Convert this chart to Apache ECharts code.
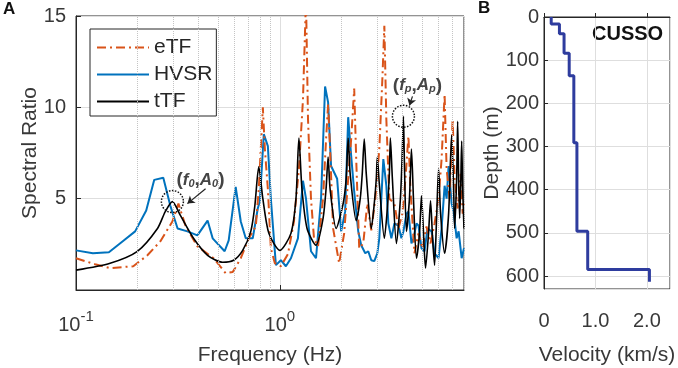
<!DOCTYPE html>
<html>
<head>
<meta charset="utf-8">
<script src="https://cdn.jsdelivr.net/npm/echarts@6.0.0/dist/echarts.min.js"></script>
<style>
html, body { margin: 0; padding: 0; background: #fff; }
#chart { width: 678px; height: 368px; }
</style>
</head>
<body>
<div id="chart"></div>
<script>
// ---- panel A : spectral ratio curves (frequency in Hz) ----
const freqETF = [0.100, 0.124, 0.147, 0.191, 0.224, 0.259, 0.297, 0.318, 0.344, 0.394, 0.473, 0.542, 0.587, 0.643, 0.704, 0.762, 0.788, 0.815, 0.825, 0.844, 0.873, 0.903, 0.945, 1.011, 1.095, 1.172, 1.240, 1.298, 1.343, 1.374, 1.421, 1.470, 1.539, 1.628, 1.685, 1.724, 1.763, 1.824, 1.953, 2.067, 2.163, 2.237, 2.315, 2.368, 2.450, 2.564, 2.684, 2.808, 2.938, 3.074, 3.181, 3.254, 3.328, 3.443, 3.645, 3.814, 3.990, 4.129, 4.271, 4.369, 4.572, 4.784, 5.006, 5.239, 5.483, 5.737, 6.003, 6.211, 6.426, 6.573, 6.801, 7.036, 7.196, 7.446, 7.704, 7.882, 8.0];
const ratioETF = [1.74, 1.41, 1.20, 1.30, 1.90, 2.66, 3.75, 4.73, 3.53, 2.39, 1.74, 0.92, 0.98, 1.74, 2.83, 3.48, 5.54, 8.80, 10.0, 7.72, 5.54, 2.28, 1.47, 1.30, 1.96, 3.75, 6.63, 10.43, 15.9, 9.35, 5.0, 2.83, 2.39, 5.0, 8.26, 10.16, 7.72, 3.37, 1.47, 3.10, 6.09, 8.26, 11.03, 7.17, 2.28, 2.55, 4.73, 3.26, 5.0, 7.72, 11.52, 14.46, 9.35, 5.0, 4.73, 3.37, 4.18, 6.09, 8.42, 5.54, 2.01, 3.10, 2.28, 3.48, 2.55, 3.64, 5.0, 7.17, 10.71, 6.63, 5.0, 9.35, 6.09, 4.46, 6.36, 4.18, 4.84];

const freqHVSR = [0.100, 0.121, 0.145, 0.169, 0.195, 0.221, 0.242, 0.268, 0.290, 0.315, 0.352, 0.394, 0.442, 0.468, 0.536, 0.561, 0.607, 0.643, 0.680, 0.736, 0.779, 0.797, 0.834, 0.873, 0.903, 0.956, 1.011, 1.070, 1.133, 1.226, 1.298, 1.343, 1.421, 1.504, 1.592, 1.666, 1.724, 1.783, 1.909, 1.998, 2.090, 2.163, 2.237, 2.315, 2.423, 2.506, 2.623, 2.713, 2.808, 2.904, 3.005, 3.074, 3.217, 3.328, 3.404, 3.523, 3.645, 3.814, 3.945, 4.036, 4.176, 4.271, 4.419, 4.520, 4.677, 4.784, 4.950, 5.121, 5.299, 5.545, 5.737, 6.002, 6.211, 6.427, 6.573, 6.724, 6.956, 7.115, 7.362, 7.530, 7.792, 8.0];
const ratioHVSR = [2.17, 2.01, 2.07, 2.66, 3.21, 4.35, 6.03, 6.14, 4.62, 3.37, 3.21, 2.99, 3.80, 2.83, 2.12, 2.72, 5.65, 3.75, 2.83, 2.83, 4.46, 4.84, 8.53, 7.88, 5.0, 1.36, 1.63, 1.30, 1.74, 2.83, 5.98, 5.0, 2.12, 1.74, 5.0, 11.14, 10.27, 6.79, 6.09, 3.21, 4.29, 9.46, 7.34, 5.38, 3.21, 2.45, 2.01, 2.12, 1.63, 1.58, 2.01, 2.83, 7.17, 5.71, 3.64, 2.83, 3.64, 3.53, 2.83, 3.21, 4.18, 4.29, 2.55, 2.83, 3.64, 3.53, 2.28, 2.12, 3.37, 3.21, 2.01, 1.74, 3.37, 5.71, 5.0, 6.79, 4.73, 4.29, 2.83, 3.21, 1.74, 2.28];

const freqTTF = [0.100, 0.147, 0.200, 0.251, 0.274, 0.297, 0.325, 0.377, 0.442, 0.524, 0.593, 0.657, 0.720, 0.753, 0.788, 0.825, 0.883, 1.0, 1.133, 1.199, 1.240, 1.283, 1.359, 1.504, 1.628, 1.685, 1.724, 1.763, 1.888, 2.043, 2.114, 2.163, 2.212, 2.368, 2.478, 2.535, 2.593, 2.653, 2.808, 2.904, 2.971, 3.005, 3.074, 3.254, 3.366, 3.443, 3.483, 3.563, 3.728, 3.901, 3.990, 4.036, 4.082, 4.176, 4.320, 4.419, 4.521, 4.677, 4.839, 4.950, 5.064, 5.181, 5.360, 5.483, 5.609, 5.737, 5.869, 6.003, 6.141, 6.426, 6.724, 6.956, 7.115, 7.196, 7.362, 7.446, 7.531, 7.617, 7.704, 7.792, 7.882, 8.0];
const ratioTTF = [1.09, 1.47, 2.12, 3.37, 4.29, 4.84, 4.08, 2.83, 1.90, 1.52, 1.63, 2.17, 3.21, 4.57, 6.74, 5.0, 3.10, 2.17, 3.10, 5.0, 8.32, 5.54, 3.37, 2.45, 3.91, 5.54, 7.28, 5.54, 3.37, 4.73, 6.09, 8.32, 6.36, 3.80, 5.0, 6.36, 8.26, 6.36, 3.37, 4.73, 6.09, 7.28, 5.82, 2.83, 4.46, 6.36, 8.32, 6.09, 2.55, 5.0, 7.72, 9.51, 6.90, 3.21, 5.0, 7.72, 5.0, 1.74, 3.10, 5.16, 3.10, 1.20, 3.10, 4.89, 2.83, 1.36, 3.91, 6.63, 4.18, 2.01, 4.18, 8.48, 5.54, 3.37, 6.09, 9.24, 6.09, 3.91, 5.54, 8.15, 5.54, 3.37];

// picked points (f0, A0) and (fp, Ap)
const peakF0 = [0.297, 4.84];
const peakFp = [4.036, 9.51];

// dotted minor grid frequencies
const minorFreqs = [0.2, 0.3, 0.4, 0.5, 0.6, 0.7, 0.8, 0.9, 2, 3, 4, 5, 6, 7, 8];

// ---- panel B : shear-wave velocity profile ----
const layerTop = [0, 16, 39, 84, 136, 291, 496, 585];   // m
const layerVel = [0.14, 0.30, 0.39, 0.49, 0.58, 0.64, 0.85, 2.05]; // km/s
const profileBottom = 613;

const FONT = 'Liberation Sans, Arial, sans-serif';
const TXT = '#383838';
const AX = '#262626';

const pair = (xs, ys) => xs.map((x, i) => [x, ys[i]]);

// build the step profile from the layers
const profile = [];
layerTop.forEach((top, i) => {
  const bot = i < layerTop.length - 1 ? layerTop[i + 1] : profileBottom;
  profile.push([layerVel[i], top], [layerVel[i], bot]);
});

const annoRich = {
  p: { fontSize: 19, fontWeight: 'bold', color: '#444', fontFamily: FONT },
  i: { fontSize: 17, fontWeight: 'bold', fontStyle: 'italic', color: '#444', fontFamily: FONT },
  s: { fontSize: 11, fontWeight: 'bold', fontStyle: 'italic', color: '#444', fontFamily: FONT, verticalAlign: 'bottom', lineHeight: 14 }
};

const chart = echarts.init(document.getElementById('chart'));

const option = {
  animation: false,
  backgroundColor: '#fff',
  textStyle: { fontFamily: FONT },
  graphic: [
    { type: 'text', left: 3, top: 1, style: { text: 'A', font: 'bold 17px ' + FONT, fill: '#111' } },
    { type: 'text', left: 478, top: 0, style: { text: 'B', font: 'bold 17px ' + FONT, fill: '#111' } },
    { type: 'text', left: 592, top: 24, style: { text: 'CUSSO', font: 'bold 20px ' + FONT, fill: '#111' } }
  ],
  legend: {
    data: ['eTF', 'HVSR', 'tTF'],
    orient: 'vertical',
    left: 90,
    top: 29,
    itemWidth: 52,
    itemHeight: 14,
    itemGap: 6,
    padding: [8, 4, 4, 6],
    borderColor: AX,
    borderWidth: 1,
    backgroundColor: '#fff',
    itemStyle: { opacity: 0 },
    textStyle: { fontSize: 21, color: '#262626', fontFamily: FONT }
  },
  grid: [
    { left: 76, top: 16, width: 388, height: 274, show: true, borderColor: AX, borderWidth: 1, containLabel: false, outerBoundsMode: 'none' },
    { left: 544, top: 17, width: 126, height: 272, show: true, borderColor: AX, borderWidth: 1, containLabel: false, outerBoundsMode: 'none' }
  ],
  xAxis: [
    {
      gridIndex: 0,
      type: 'log',
      logBase: 10,
      min: 0.1,
      max: 8,
      axisLine: { lineStyle: { color: AX } },
      axisTick: { inside: true, length: 5, lineStyle: { color: AX } },
      splitLine: { show: true, lineStyle: { color: '#dedede' } },
      axisLabel: {
        margin: 19,
        showMaxLabel: false,
        formatter: function (v) {
          const lg = Math.log10(v);
          const e = Math.round(lg);
          if (Math.abs(lg - e) > 1e-6) return '';
          return '{b|10}{s|' + e + '}';
        },
        rich: {
          b: { fontSize: 20, color: TXT, fontFamily: FONT, lineHeight: 26, verticalAlign: 'bottom' },
          s: { fontSize: 15, color: TXT, fontFamily: FONT, lineHeight: 14, verticalAlign: 'top' }
        }
      },
      name: 'Frequency (Hz)',
      nameLocation: 'middle',
      nameMoveOverlap: false,
      nameGap: 55,
      nameTextStyle: { fontSize: 21, color: TXT, fontFamily: FONT }
    },
    {
      gridIndex: 1,
      type: 'value',
      min: 0,
      max: 2.45,
      interval: 1,
      axisLine: { lineStyle: { color: AX } },
      axisTick: { inside: true, length: 4, lineStyle: { color: AX } },
      splitLine: { show: true, lineStyle: { color: '#dedede' } },
      axisLabel: {
        margin: 22,
        showMaxLabel: false,
        fontSize: 20,
        color: TXT,
        formatter: v => (v === 0 ? '0' : v.toFixed(1))
      },
      name: 'Velocity (km/s)',
      nameLocation: 'middle',
      nameMoveOverlap: false,
      nameGap: 56,
      nameTextStyle: { fontSize: 21, color: TXT, fontFamily: FONT }
    }
  ],
  yAxis: [
    {
      gridIndex: 0,
      type: 'value',
      min: 0,
      max: 15,
      interval: 5,
      axisLine: { show: true, lineStyle: { color: AX } },
      axisTick: { show: true, inside: true, length: 5, lineStyle: { color: AX } },
      splitLine: { show: true, lineStyle: { color: '#dedede' } },
      axisLabel: {
        margin: 10,
        fontSize: 20,
        color: TXT,
        formatter: v => (v === 0 ? '' : String(v))
      },
      name: 'Spectral Ratio',
      nameLocation: 'middle',
      nameMoveOverlap: false,
      nameGap: 35,
      nameTextStyle: { fontSize: 21, color: TXT, fontFamily: FONT }
    },
    {
      gridIndex: 1,
      type: 'value',
      inverse: true,
      min: 0,
      max: 630,
      interval: 100,
      axisLine: { show: true, lineStyle: { color: AX } },
      axisTick: { show: true, inside: true, length: 4, lineStyle: { color: AX } },
      splitLine: { show: true, lineStyle: { color: '#dedede' } },
      axisLabel: { margin: 5, fontSize: 20, color: TXT, showMaxLabel: false },
      name: 'Depth (m)',
      nameLocation: 'middle',
      nameMoveOverlap: false,
      nameGap: 41,
      nameTextStyle: { fontSize: 21, color: TXT, fontFamily: FONT }
    }
  ],
  series: [
    {
      name: 'HVSR',
      type: 'line',
      xAxisIndex: 0,
      yAxisIndex: 0,
      data: pair(freqHVSR, ratioHVSR),
      symbol: 'none',
      color: '#0072bd',
      lineStyle: { color: '#0072bd', width: 2 },
      markLine: {
        silent: true,
        symbol: 'none',
        label: { show: false },
        lineStyle: { color: '#c4c4c4', type: 'dotted', width: 1 },
        data: minorFreqs.map(f => ({ xAxis: f }))
      }
    },
    {
      name: 'eTF',
      type: 'line',
      xAxisIndex: 0,
      yAxisIndex: 0,
      data: pair(freqETF, ratioETF),
      symbol: 'none',
      color: '#d95319',
      lineStyle: { color: '#d95319', width: 2, type: [9, 4, 2, 4] }
    },
    {
      name: 'tTF',
      type: 'line',
      xAxisIndex: 0,
      yAxisIndex: 0,
      data: pair(freqTTF, ratioTTF),
      symbol: 'none',
      smooth: 0.25,
      color: '#000',
      lineStyle: { color: '#000', width: 1.6 },
      markPoint: {
        silent: true,
        data: [
          { coord: peakF0, symbol: 'circle', symbolSize: 22,
            itemStyle: { color: 'rgba(0,0,0,0)', borderColor: '#111', borderWidth: 1.5, borderType: 'dotted' },
            label: { show: false } },
          { coord: peakFp, symbol: 'circle', symbolSize: 22,
            itemStyle: { color: 'rgba(0,0,0,0)', borderColor: '#111', borderWidth: 1.5, borderType: 'dotted' },
            label: { show: false } },
          { coord: [0.408, 6.03], symbol: 'circle', symbolSize: 1,
            itemStyle: { color: 'rgba(0,0,0,0)' },
            label: { show: true, position: 'inside', formatter: '{p|(}{i|f}{s|0}{p|,}{i|A}{s|0}{p|)}', rich: annoRich } },
          { coord: [4.73, 11.2], symbol: 'circle', symbolSize: 1,
            itemStyle: { color: 'rgba(0,0,0,0)' },
            label: { show: true, position: 'inside', formatter: '{p|(}{i|f}{s|p}{p|,}{i|A}{s|p}{p|)}', rich: annoRich } }
        ]
      },
      markLine: {
        silent: true,
        symbol: ['none', 'arrow'],
        symbolSize: 7,
        label: { show: false },
        lineStyle: { color: '#222', width: 1.2, type: 'solid' },
        data: [
          [{ coord: [0.432, 5.54], lineStyle: { curveness: 0.5 } }, { coord: [0.352, 4.73] }],
          [{ coord: [4.47, 10.6] }, { coord: [4.32, 10.1] }]
        ]
      }
    },
    {
      name: 'Vs',
      type: 'line',
      xAxisIndex: 1,
      yAxisIndex: 1,
      data: profile,
      symbol: 'none',
      color: '#2e3c9e',
      lineStyle: { color: '#2e3c9e', width: 3 }
    }
  ]
};

chart.setOption(option);
</script>
</body>
</html>
